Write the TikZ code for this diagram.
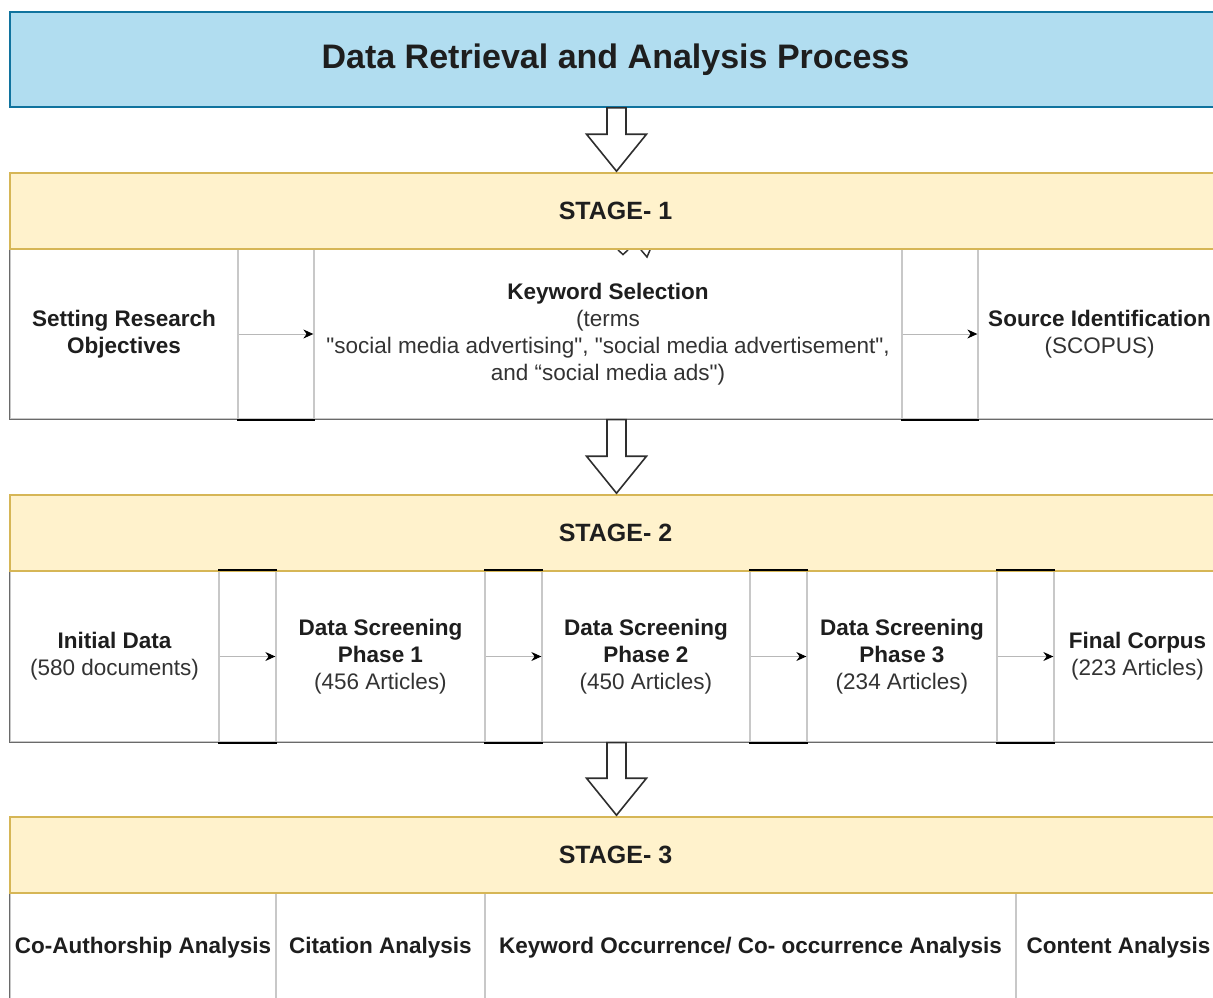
\documentclass[tikz,border=0pt]{standalone}
\usepackage{fontspec}
\setmainfont{Liberation Sans}[Ligatures=TeXOff]
\usetikzlibrary{arrows.meta,calc}
\definecolor{titlefill}{HTML}{B1DDF0}
\definecolor{titleline}{HTML}{10739E}
\definecolor{stagefill}{HTML}{FFF2CC}
\definecolor{stageline}{HTML}{D6B656}
\definecolor{sepgray}{HTML}{C8C8C8}
\definecolor{edgegray}{HTML}{6A6A6A}
\definecolor{txt}{HTML}{1E1E1E}
\definecolor{regtxt}{HTML}{333333}
\definecolor{conngray}{HTML}{B8B8B8}
\definecolor{arrline}{HTML}{2E2E2E}
\newcommand\blockarr[2]{%
  \coordinate (ba-top) at ($(#1)+(1,0)$);
  \coordinate (ba-tip) at ($(#2)+(1,-1)$);
  \draw[blockarrow] ($(ba-top)+(-9.5,0)$) -- ($(ba-top)+(9.5,0)$)
    -- ($(ba-tip)+(9.5,-37)$) -- ($(ba-tip)+(30,-37)$) -- (ba-tip)
    -- ($(ba-tip)+(-30,-37)$) -- ($(ba-tip)+(-9.5,-37)$) -- cycle;}
\begin{document}
\begin{tikzpicture}[x=1pt,y=-1pt,
  titlebox/.style={draw=titleline,fill=titlefill,line width=1.6pt,minimum width=1211pt,minimum height=95pt,inner sep=0pt,font=\fontsize{34}{40}\selectfont\bfseries,text=txt},
  stagebox/.style={draw=stageline,fill=stagefill,line width=1.6pt,minimum width=1211pt,minimum height=76pt,inner sep=0pt,font=\fontsize{25}{30}\selectfont\bfseries,text=txt},
  cell/.style={draw=sepgray,line width=1.3pt,fill=white,inner sep=0pt,align=center,font=\fontsize{22.5}{27}\selectfont,text=regtxt},
  spacer/.style={draw=sepgray,line width=1.3pt,fill=white,inner sep=0pt},
  conn/.style={draw=conngray,line width=1pt,-{Stealth[length=10pt,width=9pt,color=black]}},
  blackseg/.style={draw=black,line width=2pt},
  outeredge/.style={draw=edgegray,line width=1.6pt},
  blockarrow/.style={draw=arrline,fill=white,line width=1.6pt,line join=miter},
  fragline/.style={draw=arrline,line width=1.5pt}
]
\clip (0,0) rectangle (1213,998);
\useasboundingbox (0,0) rectangle (1213,998);

% ---------- title ----------
\node[titlebox] (title) at (615.5,59.5) {Data Retrieval and Analysis Process};

% ---------- stage 1 row ----------
\node[cell,minimum width=228pt,minimum height=170pt] (setobj) at (124,334) {\textcolor{txt}{\textbf{Setting Research}}\\\textcolor{txt}{\textbf{Objectives}}};
\node[spacer,minimum width=76pt,minimum height=170pt] (sp11) at (276,334) {};
\node[cell,minimum width=588pt,minimum height=170pt] (kw) at (608,334) {\textcolor{txt}{\textbf{Keyword Selection}}\\(terms\\"social media advertising", "social media advertisement",\\and “social media ads")};
\node[spacer,minimum width=76pt,minimum height=170pt] (sp12) at (940,334) {};
\node[cell,minimum width=243pt,minimum height=170pt] (src) at (1099.5,334) {\textcolor{txt}{\textbf{Source Identification}}\\(SCOPUS)};
\draw[conn] (setobj.east) -- (kw.west);
\draw[conn] (kw.east) -- (src.west);
\draw[outeredge] (setobj.north west) -- (setobj.south west) -- (src.south east);
\draw[blackseg] (sp11.south west) -- (sp11.south east);
\draw[blackseg] (sp12.south west) -- (sp12.south east);

% ---------- stage 2 row ----------
\node[cell,minimum width=209pt,minimum height=171pt] (init) at (114.5,656.5) {\textcolor{txt}{\textbf{Initial Data}}\\(580 documents)};
\node[spacer,minimum width=57pt,minimum height=171pt] (sp21) at (247.5,656.5) {};
\node[cell,minimum width=209pt,minimum height=171pt] (ds1) at (380.5,656.5) {\textcolor{txt}{\textbf{Data Screening}}\\\textcolor{txt}{\textbf{Phase 1}}\\(456 Articles)};
\node[spacer,minimum width=57pt,minimum height=171pt] (sp22) at (513.5,656.5) {};
\node[cell,minimum width=208pt,minimum height=171pt] (ds2) at (646,656.5) {\textcolor{txt}{\textbf{Data Screening}}\\\textcolor{txt}{\textbf{Phase 2}}\\(450 Articles)};
\node[spacer,minimum width=57pt,minimum height=171pt] (sp23) at (778.5,656.5) {};
\node[cell,minimum width=190pt,minimum height=171pt] (ds3) at (902,656.5) {\textcolor{txt}{\textbf{Data Screening}}\\\textcolor{txt}{\textbf{Phase 3}}\\(234 Articles)};
\node[spacer,minimum width=57pt,minimum height=171pt] (sp24) at (1025.5,656.5) {};
\node[cell,minimum width=167pt,minimum height=171pt] (fin) at (1137.5,656.5) {\textcolor{txt}{\textbf{Final Corpus}}\\(223 Articles)};
\draw[conn] (init.east) -- (ds1.west);
\draw[conn] (ds1.east) -- (ds2.west);
\draw[conn] (ds2.east) -- (ds3.west);
\draw[conn] (ds3.east) -- (fin.west);
\draw[outeredge] (init.north west) -- (init.south west) -- (fin.south east);

% ---------- stage 3 row ----------
\node[cell,minimum width=266pt,minimum height=110pt,text=txt] (coa) at (143,948) {\textbf{Co-Authorship Analysis}};
\node[cell,minimum width=209pt,minimum height=110pt,text=txt] (cit) at (380.5,948) {\textbf{Citation Analysis}};
\node[cell,minimum width=531pt,minimum height=110pt,text=txt] (kwo) at (750.5,948) {\textbf{Keyword Occurrence/ Co- occurrence Analysis}};
\node[cell,minimum width=205pt,minimum height=110pt,text=txt] (con) at (1118.5,948) {\textbf{Content Analysis}};
\draw[outeredge] (coa.north west) -- (coa.south west);

% ---------- partly hidden arrow below stage 1 header ----------
\draw[fragline] (618,250) -- (623,254.5) -- (628,250);
\draw[fragline] (641,250) -- (647,257) -- (650,250);

% ---------- stage headers ----------
\node[stagebox] (s1) at (615.5,211) {STAGE- 1};
\node[stagebox] (s2) at (615.5,533) {STAGE- 2};
\node[stagebox] (s3) at (615.5,855) {STAGE- 3};

% black edges of the stage 2 spacer cells (drawn over the header border)
\foreach \s in {sp21,sp22,sp23,sp24}{
  \draw[blackseg] (\s.south west) -- (\s.south east);
  \draw[blackseg] (\s.north west) -- (\s.north east);
}

% ---------- block arrows ----------
\blockarr{title.south}{s1.north}
\blockarr{title.south |- kw.south}{s2.north}
\blockarr{title.south |- ds2.south}{s3.north}
\end{tikzpicture}
\end{document}
